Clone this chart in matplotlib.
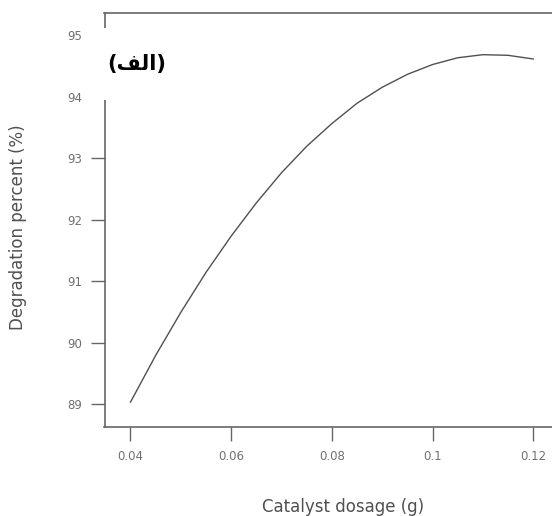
import matplotlib
matplotlib.use("Agg")
import matplotlib.pyplot as plt
from matplotlib.patches import Rectangle

# Data
dosage = [0.040, 0.045, 0.050, 0.055, 0.060, 0.065, 0.070, 0.075, 0.080,
          0.085, 0.090, 0.095, 0.100, 0.105, 0.110, 0.115, 0.120]
degradation = [89.03, 89.79, 90.49, 91.14, 91.73, 92.27, 92.76, 93.19, 93.56,
               93.89, 94.15, 94.36, 94.52, 94.63, 94.68, 94.67, 94.61]
x_ticks = [0.04, 0.06, 0.08, 0.10, 0.12]
x_tick_labels = ["0.04", "0.06", "0.08", "0.1", "0.12"]
y_ticks = [89, 90, 91, 92, 93, 94, 95]
y_tick_labels = ["89", "90", "91", "92", "93", "94", "95"]
x_label = "Catalyst dosage (g)"
y_label = "Degradation percent (%)"
# "(الف)" in visual order with Arabic presentation forms (matplotlib has no shaping)
panel_label = "(\uFED2\uFEDF\uFE8D)"

W, H = 552, 516
fig = plt.figure(figsize=(W / 100, H / 100), dpi=100)
left_px, right_px, top_px, bottom_px = 104.5, 578, 13.3, 426.7
ax = fig.add_axes([left_px / W, 1 - bottom_px / H,
                   (right_px - left_px) / W, (bottom_px - top_px) / H])

ax.plot(dosage, degradation, color="#505050", lw=1.0)
ax.set_xlim(0.03484, 0.1289)
ax.set_ylim(88.631, 95.353)

font = "DejaVu Sans"
ax.set_xticks(x_ticks)
ax.set_xticklabels(x_tick_labels, fontsize=8.5, color="#707070", family=font)
ax.set_yticks(y_ticks)
ax.set_yticklabels(y_tick_labels, fontsize=8.5, color="#707070", family=font)
ax.tick_params(axis="both", direction="out", length=10, width=1.0, color="#666666")
ax.tick_params(axis="x", pad=7)
ax.tick_params(axis="y", pad=6)

for s in ax.spines.values():
    s.set_color("#666666")
    s.set_linewidth(1.2)

ax.set_xlabel(x_label, fontsize=12, color="#505050", family=font)
ax.set_ylabel(y_label, fontsize=12, color="#505050", family=font)
ax.xaxis.set_label_coords((343 - left_px) / (right_px - left_px),
                          (bottom_px - 498) / (bottom_px - top_px))
ax.yaxis.set_label_coords((27 - left_px) / (right_px - left_px),
                          (bottom_px - 227.5) / (bottom_px - top_px))

# white box that hides part of the left spine, with the panel label
fig.patches.append(Rectangle((88 / W, 1 - 100 / H), 95 / W, 72 / H,
                             transform=fig.transFigure, facecolor="white",
                             edgecolor="none", zorder=5))
fig.text(137 / W, 1 - 64 / H, panel_label, fontsize=15, fontweight="bold",
         family="DejaVu Sans", ha="center", va="center", color="black", zorder=6)

fig.savefig("out.png", dpi=100)
